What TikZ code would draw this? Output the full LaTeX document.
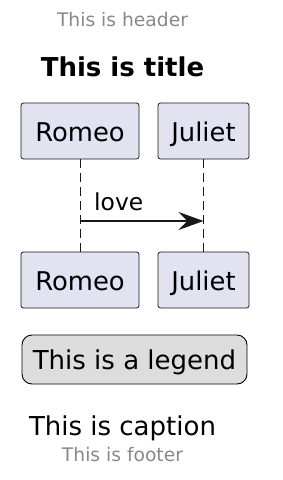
\documentclass[tikz,border=0pt]{standalone}
\usepackage{fontspec}
\setmainfont{DejaVu Sans}
\usetikzlibrary{arrows.meta}
\definecolor{partfill}{HTML}{E2E2F0}
\definecolor{partline}{HTML}{181818}
\definecolor{legfill}{HTML}{DDDDDD}
\definecolor{hdr}{HTML}{888888}
\tikzset{
  part/.style={draw=partline, fill=partfill, line width=0.8pt, rounded corners=2.5pt,
    minimum height=56pt, inner sep=0pt, text height=21.4pt, text depth=0pt,
    font=\fontsize{25.8}{28}\selectfont},
  lifeline/.style={draw=partline, line width=0.9pt, dash pattern=on 9pt off 5pt},
  msg/.style={draw=partline, line width=1.5pt, -{Stealth[length=25pt, width=18pt, inset=9pt]}},
  hf/.style={text=hdr, anchor=base, inner sep=0pt, font=\fontsize{18.7}{20}\selectfont},
}
\begin{document}
\begin{tikzpicture}[x=1pt, y=-1pt]
\useasboundingbox (0,0) rectangle (282,480);
\node[hf] (header) at (122.5,26.5) {This is header};
\node[anchor=base, inner sep=0pt, font=\fontsize{26}{28}\selectfont\bfseries] (title) at (122.5,76) {This is title};
\node[part, minimum width=118pt] (rt) at (80,131) {Romeo};
\node[part, minimum width=91pt] (jt) at (203.5,131) {Juliet};
\node[part, minimum width=118pt] (rb) at (80,280) {Romeo};
\node[part, minimum width=91pt] (jb) at (203.5,280) {Juliet};
\draw[lifeline] (rt.south) -- (rb.north);
\draw[lifeline] (jt.south) -- (jb.north);
\coordinate (m) at (0,221);
\draw[msg] (rt.south |- m) -- (jt.south |- m);
\node[anchor=base west, inner sep=0pt, font=\fontsize{23.4}{26}\selectfont] (love) at (94,210) {love};
\node[draw=black, fill=legfill, line width=0.9pt, rounded corners=10pt, minimum width=225pt, minimum height=49pt,
  inner sep=0pt, text height=19.6pt, text depth=0pt, font=\fontsize{26}{28}\selectfont] (legend) at (134.5,359.5) {This is a legend};
\node[anchor=base, inner sep=0pt, font=\fontsize{26}{28}\selectfont] (caption) at (122.5,435) {This is caption};
\node[hf] (footer) at (122.5,461.7) {This is footer};
\end{tikzpicture}
\end{document}
